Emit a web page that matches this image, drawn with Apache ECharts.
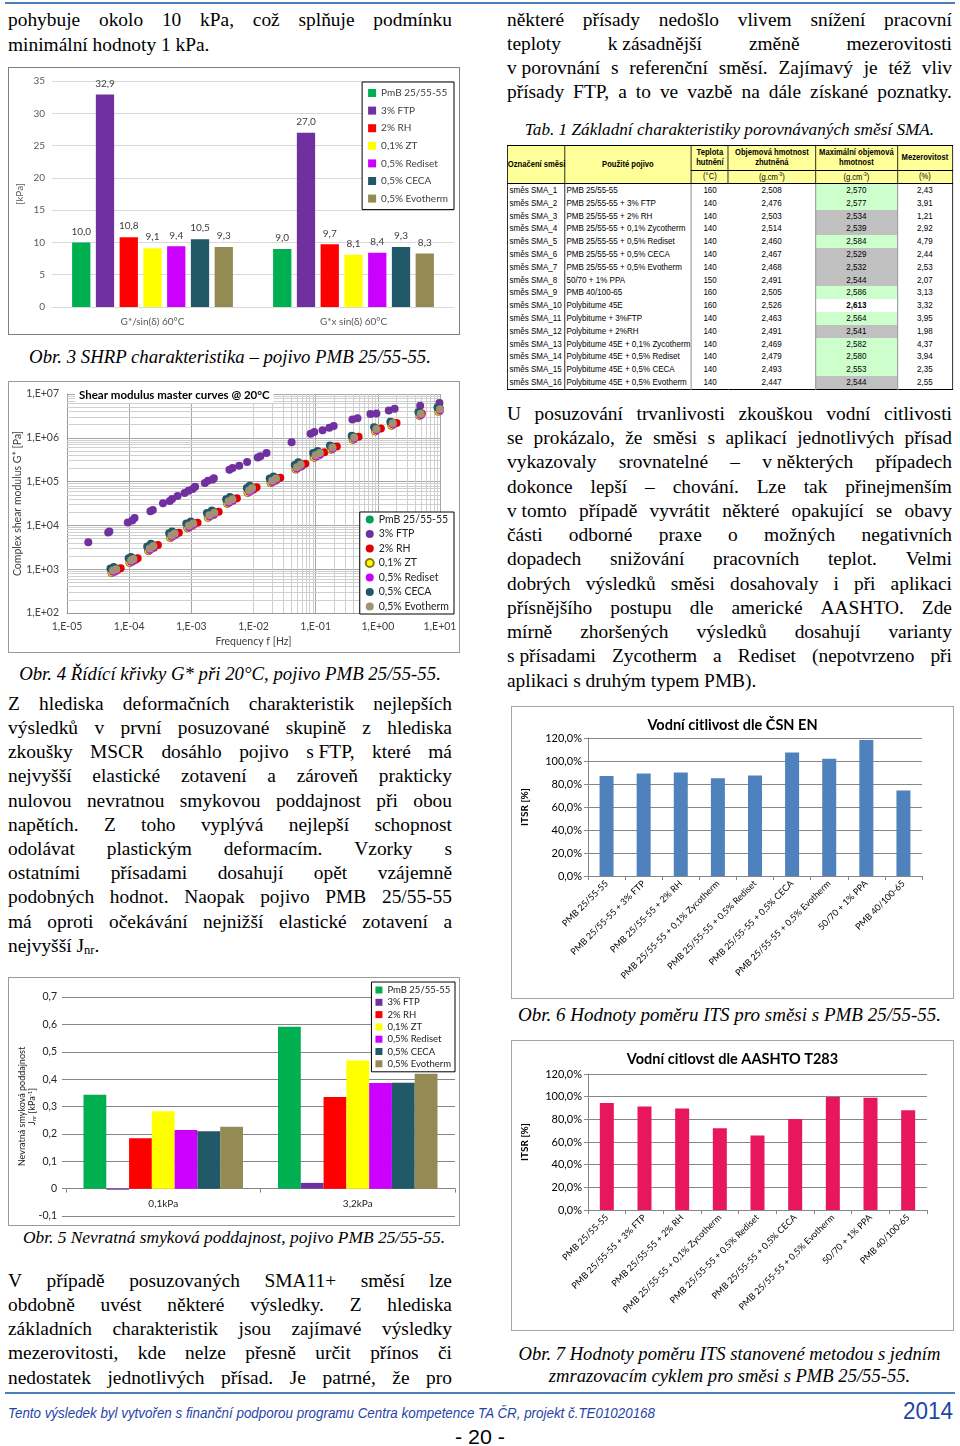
<!DOCTYPE html>
<html><head><meta charset="utf-8">
<script src="https://cdn.jsdelivr.net/npm/echarts@6/dist/echarts.min.js"></script>
<style>
html,body{margin:0;padding:0;background:#fff;}
body{width:960px;height:1446px;position:relative;overflow:hidden;font-family:"Liberation Serif","Times New Roman",serif;color:#000;}
.ln{position:absolute;white-space:nowrap;line-height:1;}
.jl{display:flex;justify-content:space-between;}
.chart{position:absolute;box-sizing:border-box;background:#fff;}
.hr{position:absolute;height:0;}
#tbl{position:absolute;left:507px;top:145px;transform-origin:0 0;}
#tbl table{border-collapse:collapse;table-layout:fixed;border:1.5px solid #000;}
#tbl th{background:#ffff99;font-weight:bold;border:1px solid #000;padding:0;line-height:1.05;text-align:center;vertical-align:middle;font-size:9.3px;white-space:nowrap;}
#tbl td{padding:0 2px;line-height:12.8px;height:12.8px;white-space:nowrap;overflow:hidden;}
</style></head><body>
<div class="hr" style="left:5px;top:2px;width:950px;border-top:2px solid #4a7ebb;"></div>
<div class="hr" style="left:5px;top:1392px;width:950px;border-top:2px solid #4a7ebb;"></div>
<div id="c1" class="chart" style="left:8px;top:67px;width:452px;height:268px;border:1px solid #7f7f7f;"></div>
<div id="c2" class="chart" style="left:8px;top:381px;width:452px;height:272px;border:1px solid #9a9a9a;"></div>
<div id="c3" class="chart" style="left:8px;top:977px;width:452px;height:249px;border:1px solid #9a9a9a;"></div>
<div id="c4" class="chart" style="left:511px;top:706px;width:443px;height:293px;border:1px solid #a6a6a6;"></div>
<div id="c5" class="chart" style="left:511px;top:1040px;width:443px;height:291px;border:1px solid #a6a6a6;"></div>
<div id="tbl"></div>
<script>
// ---------------- DATA ----------------
// Obr. 3 – SHRP characteristics [kPa]
const shrpCategories = ["G*/sin(δ) 60°C", "G*x sin(δ) 60°C"];
const additiveNames = ["PmB 25/55-55", "3% FTP", "2% RH", "0,1% ZT", "0,5% Rediset", "0,5% CECA", "0,5% Evotherm"];
const shrpPmB = [10.0, 9.0];
const shrpFTP = [32.9, 27.0];
const shrpRH = [10.8, 9.7];
const shrpZT = [9.1, 8.1];
const shrpRediset = [9.4, 8.4];
const shrpCECA = [10.5, 9.3];
const shrpEvotherm = [9.3, 8.3];

// Obr. 4 – master curves [frequency Hz, G* Pa]
const mcPmB = [[5.4e-5,9.7e2],[6.05e-5,1.05e3],[1.05e-4,1.65e3],[1.14e-4,1.78e3],[2.09e-4,3.09e3],[2.4e-4,3.55e3],[4.7e-4,6.2e3],[5.3e-4,6.8e3],[8.9e-4,1.03e4],[1.05e-3,1.15e4],[1.9e-3,1.78e4],[2.29e-3,2.04e4],[3.9e-3,3.72e4],[4.47e-3,4.17e4],[8.3e-3,6.6e4],[9.3e-3,7.4e4],[1.95e-2,1.1e5],[2.25e-2,1.23e5],[4.9e-2,2.24e5],[5.6e-2,2.57e5],[9.8e-2,4.17e5],[1.14e-1,4.68e5],[1.82e-1,6.3e5],[4.07e-1,1.07e6],[0.93,1.66e6],[1.7,2.24e6],[4.8,3.72e6],[9.8,4.68e6]];
const mcFTP = [[2.2e-5,4.1e3],[4.6e-5,6.9e3],[4.8e-5,7.3e3],[9.5e-5,1.17e4],[1.12e-4,1.3e4],[1.22e-4,1.47e4],[2.2e-4,2.1e4],[2.4e-4,2.25e4],[3.5e-4,3.2e4],[4.5e-4,3.6e4],[4.9e-4,4.0e4],[6.0e-4,4.7e4],[7.8e-4,5.5e4],[9.0e-4,6.2e4],[1.05e-3,6.8e4],[1.15e-3,7.6e4],[1.65e-3,9.3e4],[1.85e-3,1.05e5],[2.2e-3,1.12e5],[2.3e-3,1.2e5],[4.1e-3,1.86e5],[4.6e-3,2.05e5],[5.9e-3,2.3e5],[7.9e-3,2.8e5],[1.17e-2,3.55e5],[1.29e-2,3.8e5],[1.62e-2,4.5e5],[4.1e-2,7.9e5],[8.3e-2,1.23e6],[9.5e-2,1.35e6],[1.29e-1,1.48e6],[1.66e-1,1.7e6],[1.95e-1,1.86e6],[3.9e-1,2.6e6],[4.7e-1,2.8e6],[7.6e-1,3.5e6],[9.5e-1,3.6e6],[1.5,4.2e6],[1.86,4.6e6],[4.8,5.4e6],[9.8,6.2e6]];
const mcRH = [[6.5e-5,9.7e2],[7.3e-5,1.05e3],[1.26e-4,1.65e3],[1.37e-4,1.78e3],[2.5e-4,3.09e3],[2.9e-4,3.55e3],[5.6e-4,6.2e3],[6.3e-4,6.8e3],[1.07e-3,1.03e4],[1.26e-3,1.15e4],[2.29e-3,1.78e4],[2.75e-3,2.04e4],[4.68e-3,3.72e4],[5.4e-3,4.17e4],[1.0e-2,6.6e4],[1.12e-2,7.4e4],[2.35e-2,1.1e5],[2.7e-2,1.23e5],[5.9e-2,2.24e5],[6.8e-2,2.57e5],[1.17e-1,4.17e5],[1.38e-1,4.68e5],[2.19e-1,6.3e5],[4.9e-1,1.05e6],[1.12,1.62e6],[2.0,2.19e6],[5.1,3.6e6],[10,4.6e6]];
const mcZT = [[5.25e-5,8.3e2],[5.9e-5,8.9e2],[1.02e-4,1.41e3],[1.12e-4,1.51e3],[2.04e-4,2.63e3],[2.34e-4,3.02e3],[4.6e-4,5.25e3],[5.1e-4,5.8e3],[8.7e-4,8.7e3],[1.02e-3,9.8e3],[1.86e-3,1.51e4],[2.24e-3,1.74e4],[3.8e-3,3.16e4],[4.37e-3,3.55e4],[8.1e-3,5.6e4],[9.1e-3,6.3e4],[1.9e-2,9.4e4],[2.2e-2,1.04e5],[4.8e-2,1.91e5],[5.5e-2,2.19e5],[9.5e-2,3.55e5],[1.12e-1,3.98e5],[1.78e-1,5.4e5],[3.98e-1,9.1e5],[0.91,1.41e6],[1.66,1.91e6],[4.7,3.2e6],[9.5,4.0e6]];
const mcRediset = [[5.5e-5,8.7e2],[6.2e-5,9.3e2],[1.07e-4,1.48e3],[1.17e-4,1.59e3],[2.14e-4,2.75e3],[2.45e-4,3.16e3],[4.8e-4,5.5e3],[5.4e-4,6.1e3],[9.1e-4,9.1e3],[1.07e-3,1.03e4],[1.95e-3,1.59e4],[2.34e-3,1.82e4],[3.98e-3,3.31e4],[4.57e-3,3.72e4],[8.5e-3,5.9e4],[9.5e-3,6.6e4],[2.0e-2,9.8e4],[2.3e-2,1.09e5],[5.0e-2,2.0e5],[5.75e-2,2.29e5],[1.0e-1,3.72e5],[1.17e-1,4.17e5],[1.86e-1,5.6e5],[4.17e-1,9.5e5],[0.95,1.48e6],[1.74,2.0e6],[4.9,3.3e6],[10,4.2e6]];
const mcCECA = [[5.0e-5,1.04e3],[5.65e-5,1.12e3],[9.8e-5,1.78e3],[1.07e-4,1.91e3],[1.95e-4,3.31e3],[2.24e-4,3.8e3],[4.4e-4,6.6e3],[4.9e-4,7.3e3],[8.3e-4,1.1e4],[9.8e-4,1.23e4],[1.78e-3,1.91e4],[2.14e-3,2.19e4],[3.63e-3,3.98e4],[4.17e-3,4.47e4],[7.8e-3,7.1e4],[8.7e-3,8.0e4],[1.82e-2,1.18e5],[2.1e-2,1.31e5],[4.6e-2,2.4e5],[5.25e-2,2.75e5],[9.1e-2,4.47e5],[1.07e-1,5.0e5],[1.7e-1,6.7e5],[3.8e-1,1.12e6],[0.87,1.74e6],[1.59,2.34e6],[4.5,3.9e6],[9.1,4.9e6]];
const mcEvotherm = [[5.5e-5,9.3e2],[6.2e-5,1.0e3],[1.07e-4,1.58e3],[1.17e-4,1.7e3],[2.14e-4,2.95e3],[2.45e-4,3.39e3],[4.8e-4,5.9e3],[5.4e-4,6.5e3],[9.1e-4,9.8e3],[1.07e-3,1.1e4],[1.95e-3,1.7e4],[2.34e-3,1.95e4],[3.98e-3,3.55e4],[4.57e-3,3.98e4],[8.5e-3,6.3e4],[9.5e-3,7.1e4],[2.0e-2,1.05e5],[2.3e-2,1.17e5],[5.0e-2,2.14e5],[5.75e-2,2.45e5],[1.0e-1,3.98e5],[1.17e-1,4.47e5],[1.86e-1,6.0e5],[4.17e-1,1.02e6],[0.95,1.58e6],[1.74,2.14e6],[4.9,3.55e6],[10,4.47e6]];

// Obr. 5 – non-recoverable creep compliance Jnr [kPa^-1]
const mscrCategories = ["0,1kPa", "3,2kPa"];
const jnrPmB = [0.343, 0.591];
const jnrFTP = [-0.004, 0.021];
const jnrRH = [0.184, 0.335];
const jnrZT = [0.283, 0.468];
const jnrRediset = [0.214, 0.386];
const jnrCECA = [0.210, 0.387];
const jnrEvotherm = [0.226, 0.420];

// Obr. 6 / 7 – ITSR [%]
const itsCategories = ["PMB 25/55-55", "PMB 25/55-55 + 3% FTP", "PMB 25/55-55 + 2% RH", "PMB 25/55-55 + 0,1% Zycotherm", "PMB 25/55-55 + 0,5% Rediset", "PMB 25/55-55 + 0,5% CECA", "PMB 25/55-55 + 0,5% Evotherm", "50/70 + 1% PPA", "PMB 40/100-65"];
const itsrCsnEn = [86.9, 89.1, 90.0, 84.9, 87.4, 107.4, 102.0, 118.3, 74.3];
const itsrAashto = [94.5, 91.3, 89.5, 72.1, 65.7, 80.2, 99.7, 99.1, 88.1];

// Tab. 1
const mixIds = ["směs SMA_1","směs SMA_2","směs SMA_3","směs SMA_4","směs SMA_5","směs SMA_6","směs SMA_7","směs SMA_8","směs SMA_9","směs SMA_10","směs SMA_11","směs SMA_12","směs SMA_13","směs SMA_14","směs SMA_15","směs SMA_16"];
const binders = ["PMB 25/55-55","PMB 25/55-55 + 3% FTP","PMB 25/55-55 + 2% RH","PMB 25/55-55 + 0,1% Zycotherm","PMB 25/55-55 + 0,5% Rediset","PMB 25/55-55 + 0,5% CECA","PMB 25/55-55 + 0,5% Evotherm","50/70 + 1% PPA","PMB 40/100-65","Polybitume 45E","Polybitume + 3%FTP","Polybitume + 2%RH","Polybitume 45E + 0,1% Zycotherm","Polybitume 45E + 0,5% Rediset","Polybitume 45E + 0,5% CECA","Polybitume 45E + 0,5% Evotherm"];
const compactionTemp = [160,140,140,140,140,140,140,150,160,160,140,140,140,140,140,140];
const bulkDensity = [2.508,2.476,2.503,2.514,2.460,2.467,2.468,2.491,2.505,2.526,2.463,2.491,2.469,2.479,2.493,2.447];
const maxDensity = [2.570,2.577,2.534,2.539,2.584,2.529,2.532,2.544,2.586,2.613,2.564,2.541,2.582,2.580,2.553,2.544];
const airVoids = [2.43,3.91,1.21,2.92,4.79,2.44,2.53,2.07,3.13,3.32,3.95,1.98,4.37,3.94,2.35,2.55];

// Text
const leftTopLines = ["pohybuje okolo 10 kPa, což splňuje podmínku", "minimální hodnoty 1 kPa."];
const leftParaLines = ["Z hlediska deformačních charakteristik nejlepších","výsledků v první posuzované skupině z hlediska","zkoušky MSCR dosáhlo pojivo s\u00a0FTP, které má","nejvyšší elastické zotavení a zároveň prakticky","nulovou nevratnou smykovou poddajnost při obou","napětích. Z toho vyplývá nejlepší schopnost","odolávat plastickým deformacím. Vzorky s","ostatními přísadami dosahují opět vzájemně","podobných hodnot. Naopak pojivo PMB 25/55-55","má oproti očekávání nejnižší elastické zotavení a","nejvyšší J<sub style=\"font-size:0.65em;vertical-align:-0.15em\">nr</sub>."];
const leftPara2Lines = ["V případě posuzovaných SMA11+ směsí lze","obdobně uvést některé výsledky. Z hlediska","základních charakteristik jsou zajímavé výsledky","mezerovitosti, kde nelze přesně určit přínos či","nedostatek jednotlivých přísad. Je patrné, že pro"];
const rightTopLines = ["některé přísady nedošlo vlivem snížení pracovní","teploty k\u00a0zásadnější změně mezerovitosti","v\u00a0porovnání s referenční směsí. Zajímavý je též vliv","přísady FTP, a to ve vazbě na dále získané poznatky."];
const rightParaLines = ["U posuzování trvanlivosti zkouškou vodní citlivosti","se prokázalo, že směsi s aplikací jednotlivých přísad","vykazovaly srovnatelné – v\u00a0některých případech","dokonce lepší – chování. Lze tak přinejmenším","v\u00a0tomto případě vyvrátit některé opakující se obavy","části odborné praxe o možných negativních","dopadech snižování pracovních teplot. Velmi","dobrých výsledků směsi dosahovaly i při aplikaci","přísnějšího postupu dle americké AASHTO. Zde","mírně zhoršených výsledků dosahují varianty","s\u00a0přísadami Zycotherm a Rediset (nepotvrzeno při","aplikaci s druhým typem PMB)."];

// ---------------- TEXT LAYOUT ----------------
function textBlock(lines, o) {
  lines.forEach((line, i) => {
    const d = document.createElement('div');
    d.className = 'ln';
    const fs = o.size;
    const base = o.base + i * (o.step || 0);
    d.style.left = o.x + 'px';
    d.style.width = o.w + 'px';
    d.style.fontSize = fs + 'px';
    d.style.top = (base - 0.8375 * fs) + 'px';
    if (o.italic) d.style.fontStyle = 'italic';
    const justify = o.align === 'justify' && !(o.lastLeft && i === lines.length - 1);
    if (justify) {
      d.classList.add('jl');
      line.split(' ').forEach(w => { const s = document.createElement('span'); s.textContent = w; d.appendChild(s); });
    } else {
      d.innerHTML = line;
      d.style.textAlign = o.align === 'center' ? 'center' : 'left';
    }
    document.body.appendChild(d);
  });
}
const FS = 19.4, STEP = 24.2;
textBlock(leftTopLines, {x:8, w:444, base:26.7, step:STEP, size:FS, align:'justify', lastLeft:true});
textBlock(["Obr. 3 SHRP charakteristika – pojivo PMB 25/55-55."], {x:8, w:444, base:364, size:18.8, italic:true, align:'center'});
textBlock(["Obr. 4 Řídící křivky G* při 20°C, pojivo PMB 25/55-55."], {x:8, w:444, base:681, size:18.8, italic:true, align:'center'});
textBlock(leftParaLines, {x:8, w:444, base:710, step:STEP, size:FS, align:'justify', lastLeft:true});
textBlock(["Obr. 5 Nevratná smyková poddajnost, pojivo PMB 25/55-55."], {x:12, w:444, base:1244, size:17.4, italic:true, align:'center'});
textBlock(leftPara2Lines, {x:8, w:444, base:1287, step:STEP, size:FS, align:'justify', lastLeft:false});
textBlock(rightTopLines, {x:507, w:445, base:26.7, step:23.9, size:FS, align:'justify', lastLeft:false});
textBlock(["Tab. 1 Základní charakteristiky porovnávaných směsí SMA."], {x:507, w:445, base:135, size:17.2, italic:true, align:'center'});
textBlock(rightParaLines, {x:507, w:445, base:420, step:24.27, size:FS, align:'justify', lastLeft:true});
textBlock(["Obr. 6 Hodnoty poměru ITS pro směsi s PMB 25/55-55."], {x:507, w:445, base:1021, size:19, italic:true, align:'center'});
textBlock(["Obr. 7 Hodnoty poměru ITS stanovené metodou s jedním", "zmrazovacím cyklem pro směsi s PMB 25/55-55."], {x:507, w:445, base:1361, step:21.5, size:18.6, italic:true, align:'center'});

// footer (fitted horizontally to the reference widths)
function fitText(html, o) {
  const d = document.createElement('div');
  d.className = 'ln';
  d.style.fontFamily = '"Liberation Sans Narrow","Liberation Sans",Arial,sans-serif';
  d.style.fontSize = o.size + 'px';
  d.style.color = o.color;
  if (o.italic) d.style.fontStyle = 'italic';
  d.style.left = o.x + 'px';
  d.style.top = (o.base - 0.8465 * o.size) + 'px';
  d.innerHTML = html;
  document.body.appendChild(d);
  const w = d.getBoundingClientRect().width;
  d.style.transformOrigin = '0 0';
  d.style.transform = 'scaleX(' + (o.w / w) + ')';
}
fitText("Tento výsledek byl vytvořen s finanční podporou programu Centra kompetence TA ČR, projekt č.TE01020168", {x:8, base:1418, size:14, w:647, color:'#1f45a8', italic:true});
fitText("2014", {x:903, base:1419, size:24, w:50, color:'#1f45a8'});
fitText("- 20 -", {x:455, base:1444, size:21, w:50, color:'#000'});

// ---------------- TABLE ----------------
(function buildTable() {
  const probe = document.createElement('canvas').getContext('2d');
  probe.font = '20px "Liberation Sans Narrow", monospace';
  const a = probe.measureText('abcdefghijklmnopqrstuvw').width;
  probe.font = '20px monospace';
  const b = probe.measureText('abcdefghijklmnopqrstuvw').width;
  const narrow = Math.abs(a - b) > 0.5;
  const scale = narrow ? 1 : 0.82;
  const colW = [57, 127, 37, 87, 82, 55];
  const fam = narrow ? '"Liberation Sans Narrow",sans-serif' : '"Liberation Sans",Arial,sans-serif';
  const shade = ['#ccffcc','#ccffcc','#c0c0c0','#c0c0c0','#ccffcc','#c0c0c0','#c0c0c0','#c0c0c0','#ccffcc','#ffffff','#ccffcc','#c0c0c0','#ccffcc','#ccffcc','#ccffcc','#c0c0c0'];
  const fmt = (v, n) => v.toFixed(n).replace('.', ',');
  let h = '<table style="font-family:' + fam.replace(/"/g, "'") + ';font-size:9.8px;width:' + (445 / scale) + 'px">';
  h += '<colgroup>' + colW.map(w => '<col style="width:' + (w / scale) + 'px">').join('') + '</colgroup>';
  h += '<tr style="height:25px"><th rowspan="2">Označení směsi</th><th rowspan="2">Použité pojivo</th><th>Teplota<br>hutnění</th><th>Objemová hmotnost<br>zhutněná</th><th>Maximální objemová<br>hmotnost</th><th>Mezerovitost</th></tr>';
  h += '<tr style="height:13px"><th style="font-weight:normal">(°C)</th><th style="font-weight:normal">(g.cm<sup style="font-size:6px">-3</sup>)</th><th style="font-weight:normal">(g.cm<sup style="font-size:6px">-3</sup>)</th><th style="font-weight:normal">(%)</th></tr>';
  mixIds.forEach((id, i) => {
    const bt = i === 0 ? 'border-top:1px solid #000;' : '';
    h += '<tr>' +
      '<td style="' + bt + 'border-right:1px solid #000">' + id + '</td>' +
      '<td style="' + bt + 'border-right:1px solid #777">' + binders[i] + '</td>' +
      '<td style="' + bt + 'text-align:center">' + compactionTemp[i] + '</td>' +
      '<td style="' + bt + 'text-align:center;border-right:1px solid #777">' + fmt(bulkDensity[i], 3) + '</td>' +
      '<td style="' + bt + 'text-align:center;background:' + shade[i] + ';' + (i === 9 ? 'font-weight:bold;' : '') + 'border-right:1px solid #777">' + fmt(maxDensity[i], 3) + '</td>' +
      '<td style="' + bt + 'text-align:center">' + fmt(airVoids[i], 2) + '</td></tr>';
  });
  h += '</table>';
  const t = document.getElementById('tbl');
  t.innerHTML = h;
  t.style.transform = 'scaleX(' + scale + ')';
})();

// ---------------- CHARTS ----------------
const additiveColors = ['#00b050', '#7030a0', '#ff0000', '#ffff00', '#cc00ff', '#215968', '#948a54'];
const comma1 = v => v.toFixed(1).replace('.', ',');

// Obr. 3
(function () {
  const ch = echarts.init(document.getElementById('c1'));
  const vals = [shrpPmB, shrpFTP, shrpRH, shrpZT, shrpRediset, shrpCECA, shrpEvotherm];
  ch.setOption({
    animation: false,
    textStyle: {fontFamily: 'Lato'},
    grid: {left: 43, right: 5, top: 13, bottom: 27, outerBoundsMode: 'none', containLabel: false},
    legend: {orient: 'vertical', right: 5, top: 14, icon: 'rect', itemWidth: 8, itemHeight: 8, itemGap: 5.6,
      borderColor: '#000', borderWidth: 1, backgroundColor: '#fff', padding: [5, 6, 5, 6],
      textStyle: {fontSize: 10, color: '#404040', lineHeight: 12}, data: additiveNames},
    xAxis: {type: 'category', data: shrpCategories, axisTick: {show: false},
      axisLine: {lineStyle: {color: '#d9d9d9'}}, axisLabel: {color: '#595959', fontSize: 10, margin: 10}},
    yAxis: {type: 'value', min: 0, max: 35, interval: 5, name: '[kPa]', nameLocation: 'middle', nameGap: 27, nameMoveOverlap: false,
      nameTextStyle: {color: '#595959', fontSize: 10},
      axisLabel: {color: '#595959', fontSize: 10, margin: 7}, splitLine: {lineStyle: {color: '#d9d9d9'}}},
    series: vals.map((v, i) => ({type: 'bar', name: additiveNames[i], data: v, barGap: '30%', barCategoryGap: '20%',
      itemStyle: {color: additiveColors[i]},
      label: {show: true, position: 'top', fontSize: 10, color: '#404040', distance: 6, formatter: p => comma1(p.value)}}))
  });
})();

// Obr. 4
(function () {
  const ch = echarts.init(document.getElementById('c2'));
  const expLabel = v => { const e = Math.round(Math.log10(v)); return '1,E' + (e < 0 ? '-' : '+') + String(Math.abs(e)).padStart(2, '0'); };
  const vMinor = [], hMinor = [];
  for (let d = -5; d < 1; d++) for (let m = 2; m < 10; m++) vMinor.push({xAxis: m * Math.pow(10, d)});
  for (let d = 2; d < 7; d++) for (let m = 2; m < 10; m++) hMinor.push({yAxis: m * Math.pow(10, d)});
  const sets = [mcPmB, mcFTP, mcRH, mcZT, mcRediset, mcCECA, mcEvotherm];
  const cols = ['#00a05a', '#7030a0', '#e00000', '#ffff00', '#cc00ff', '#215968', '#a09272'];
  const series = [{type: 'line', name: '_grid', data: [], silent: true, symbol: 'none', z: 1,
    markLine: {silent: true, symbol: 'none', animation: false, z: 1, label: {show: false},
      lineStyle: {color: '#cfcfcf', width: 1, type: 'solid'}, data: vMinor.concat(hMinor)}}];
  sets.forEach((s, i) => series.push({type: 'scatter', name: additiveNames[i], data: s, symbolSize: 8, z: 3,
    itemStyle: {color: cols[i], opacity: 1, borderColor: i === 3 ? '#8c7a10' : cols[i], borderWidth: i === 3 ? 1 : 0}}));
  ch.setOption({
    animation: false,
    textStyle: {fontFamily: 'Lato'},
    title: {text: 'Shear modulus master curves @ 20°C', left: 66, top: 5, z: 10, backgroundColor: '#fff', padding: [2, 4, 2, 4],
      textStyle: {fontSize: 11.5, fontWeight: 'bold', color: '#000'}},
    grid: {left: 58, right: 19, top: 12, bottom: 39, outerBoundsMode: 'none', containLabel: false},
    legend: {orient: 'vertical', right: 5, top: 130, z: 10, icon: 'circle', itemWidth: 8, itemHeight: 8, itemGap: 3.5,
      borderColor: '#000', borderWidth: 1, backgroundColor: '#fff', padding: [2, 5, 2, 5],
      textStyle: {fontSize: 10.5, color: '#222', lineHeight: 11}, data: additiveNames},
    xAxis: {type: 'log', logBase: 10, min: 1e-5, max: 10, name: 'Frequency f [Hz]', nameLocation: 'middle', nameGap: 23, nameMoveOverlap: false,
      nameTextStyle: {fontSize: 10.5, color: '#404040'},
      axisLine: {lineStyle: {color: '#999'}}, axisTick: {show: false},
      axisLabel: {formatter: expLabel, fontSize: 10.5, color: '#404040', margin: 8},
      splitLine: {show: true, lineStyle: {color: '#a6a6a6'}}},
    yAxis: {type: 'log', logBase: 10, min: 100, max: 1e7, name: 'Complex shear modulus G* [Pa]', nameLocation: 'middle', nameGap: 44, nameMoveOverlap: false,
      nameTextStyle: {fontSize: 10.5, color: '#404040'},
      axisLine: {show: true, lineStyle: {color: '#999'}}, axisTick: {show: false},
      axisLabel: {formatter: expLabel, fontSize: 10.5, color: '#404040', margin: 8},
      splitLine: {show: true, lineStyle: {color: '#a6a6a6'}}},
    series: series
  });
})();

// Obr. 5
(function () {
  const el = document.getElementById('c3');
  const ch = echarts.init(el);
  const vals = [jnrPmB, jnrFTP, jnrRH, jnrZT, jnrRediset, jnrCECA, jnrEvotherm];
  const cols = ['#00b050', '#7030a0', '#ff0000', '#ffff00', '#cc00ff', '#215968', '#948a54'];
  const g = {left: 57, right: 4, top: 19, bottom: 9};
  const yMin = -0.1, yMax = 0.7;
  // place the category axis on the zero line of the value axis
  const plotH = el.clientHeight - g.top - g.bottom;
  const zeroOffset = -plotH * (0 - yMin) / (yMax - yMin);
  ch.setOption({
    animation: false,
    textStyle: {fontFamily: 'Lato'},
    grid: Object.assign({outerBoundsMode: 'none', containLabel: false}, g),
    legend: {orient: 'vertical', right: 4, top: 4, icon: 'rect', itemWidth: 7, itemHeight: 7, itemGap: 2.3,
      borderColor: '#000', borderWidth: 1, backgroundColor: '#fff', padding: [3, 4, 3, 4], itemTextGap: 3,
      textStyle: {fontSize: 9.5, color: '#222', lineHeight: 10}, data: additiveNames},
    xAxis: {type: 'category', data: mscrCategories, position: 'bottom', offset: zeroOffset,
      axisLine: {onZero: false, lineStyle: {color: '#868686'}},
      axisTick: {show: true, length: 4, lineStyle: {color: '#868686'}}, axisLabel: {fontSize: 10, color: '#222', margin: 10}},
    yAxis: {type: 'value', min: yMin, max: yMax, interval: 0.1,
      name: '{a|Nevratná smyková poddajnost}\n{a|J}{s|nr}{a| [kPa}{p|-1}{a|]}', nameLocation: 'middle', nameGap: 29, nameMoveOverlap: false,
      nameTextStyle: {rich: {a: {fontSize: 9, color: '#222', lineHeight: 10}, s: {fontSize: 6, color: '#222', verticalAlign: 'bottom', lineHeight: 10}, p: {fontSize: 6, color: '#222', verticalAlign: 'top', lineHeight: 10}}},
      axisLine: {show: false}, axisTick: {show: true, length: 4, lineStyle: {color: '#868686'}},
      axisLabel: {fontSize: 10.5, color: '#222', margin: 9, formatter: v => Math.abs(v) < 1e-9 ? '0' : v.toFixed(1).replace('.', ',')},
      splitLine: {lineStyle: {color: '#868686'}}},
    series: vals.map((v, i) => ({type: 'bar', name: additiveNames[i], data: v, barGap: '0%', barCategoryGap: '18%',
      itemStyle: {color: cols[i]}}))
  });
})();

// Obr. 6 / 7
function itsChart(id, title, data, color, grid) {
  const ch = echarts.init(document.getElementById(id));
  ch.setOption({
    animation: false,
    textStyle: {fontFamily: 'Lato'},
    title: {text: title, left: 'center', top: 6, textStyle: {fontSize: 14.5, fontWeight: 'bold', color: '#000'}},
    grid: Object.assign({outerBoundsMode: 'none', containLabel: false}, grid),
    xAxis: {type: 'category', data: itsCategories, axisLine: {lineStyle: {color: '#868686'}},
      axisTick: {show: true, length: 4, lineStyle: {color: '#868686'}},
      axisLabel: {rotate: 45, interval: 0, fontSize: 9, color: '#000', margin: 6}},
    yAxis: {type: 'value', min: 0, max: 120, interval: 20, name: 'ITSR [%]', nameLocation: 'middle', nameGap: 58, nameMoveOverlap: false,
      nameTextStyle: {fontSize: 10, fontWeight: 'bold', color: '#000'},
      axisLine: {show: true, lineStyle: {color: '#868686'}}, axisTick: {show: true, length: 4, lineStyle: {color: '#868686'}},
      axisLabel: {fontSize: 11, color: '#000', margin: 6, formatter: v => v.toFixed(1).replace('.', ',') + '%'},
      splitLine: {lineStyle: {color: '#868686'}}},
    series: [{type: 'bar', data: data, barWidth: 14, itemStyle: {color: color}}]
  });
}
itsChart('c4', 'Vodní citlivost dle ČSN EN', itsrCsnEn, '#4f81bd', {left: 76, right: 31, top: 31, bottom: 122});
itsChart('c5', 'Vodní citlovst dle AASHTO T283', itsrAashto, '#e8175d', {left: 76, right: 26, top: 33, bottom: 120});
</script>
</body></html>
